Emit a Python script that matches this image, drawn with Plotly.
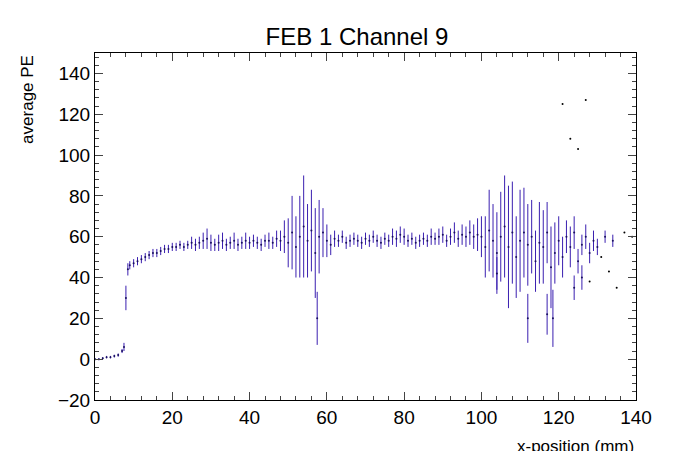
import plotly.graph_objects as go

# average PE per x bin
x_mm = [0, 1, 2, 3, 4, 5, 6, 7, 7.5, 8, 8.5,
        9, 10, 11, 12, 13, 14, 15, 16, 17, 18, 19, 20, 21, 22, 23, 24, 25, 26, 27, 28, 29,
        30, 31, 32, 33, 34, 35, 36, 37, 38, 39, 40, 41, 42, 43, 44, 45, 46, 47, 48, 49,
        50, 51, 52, 53, 54, 55, 56, 57, 58, 59, 60, 61, 62, 63, 64, 65, 66, 67, 68, 69,
        70, 71, 72, 73, 74, 75, 76, 77, 78, 79, 80, 81, 82, 83, 84, 85, 86, 87, 88, 89,
        90, 91, 92, 93, 94, 95, 96, 97, 98, 99, 100, 101, 102, 103, 104, 105, 106, 107, 108, 109,
        110, 111, 112, 113, 114, 115, 116, 117, 118, 119, 120, 121, 122, 123, 124, 125, 126, 127, 128, 129,
        130, 132, 134]
avg_pe = [0, 0, 0.5, 1, 1, 1.5, 2, 4, 6, 30, 44,
          46, 47, 48, 49, 50, 51, 52, 52, 53, 54, 54, 55, 55, 56, 55, 56, 57, 56, 57, 58, 59,
          57, 56, 57, 58, 56, 57, 58, 56, 57, 58, 57, 58, 57, 56, 58, 58, 57, 59, 58, 60,
          57, 62, 55, 60, 65, 58, 63, 52, 60, 62, 58, 56, 59, 58, 60, 57, 58, 59, 58, 57,
          59, 58, 60, 58, 57, 59, 58, 60, 59, 61, 60, 58, 59, 57, 58, 59, 58, 60, 59, 60,
          61, 58, 60, 62, 59, 61, 60, 62, 60, 61, 60, 55, 63, 58, 52, 60, 65, 55, 62, 50,
          58, 62, 56, 60, 48, 57, 55, 62, 45, 52, 58, 50, 60, 55, 62, 48, 56, 60, 52, 58,
          55, 60, 58]
pe_err = [0.5, 0.5, 0.5, 0.6, 0.6, 0.7, 0.8, 1, 2, 6, 3,
          2, 2, 2, 2, 2, 2, 2, 2, 2, 2, 2, 2, 2, 2, 2, 2, 3, 3, 3, 4, 5,
          4, 3, 4, 4, 3, 3, 4, 3, 3, 4, 3, 3, 3, 3, 3, 4, 3, 4, 5, 8,
          12, 18, 15, 20, 25, 18, 20, 22, 18, 12, 8, 5, 4, 3, 3, 3, 3, 3, 3, 3,
          3, 3, 3, 3, 3, 3, 3, 4, 4, 4, 4, 3, 3, 3, 3, 3, 3, 4, 3, 4,
          4, 3, 4, 5, 4, 5, 5, 6, 6, 8, 10, 15, 20, 18, 20, 22, 25, 30, 25, 20,
          25, 22, 20, 18, 15, 20, 18, 15, 20, 15, 12, 10, 8, 10, 8, 6, 5, 6, 5, 5,
          4, 3, 3]

# low outliers with long error bars
out_x = [57.5, 104, 112, 117, 118.5, 124, 126]
out_pe = [20, 42, 20, 22, 20, 35, 40]
out_err = [13, 8, 12, 10, 14, 6, 6]

# sparse single points at large x
sparse_x = [121, 123, 125, 127, 128, 131, 133, 135, 137, 139]
sparse_pe = [125, 108, 103, 127, 38, 50, 43, 35, 62, 60]

col = "#3a1fb0"
fig = go.Figure()
for xs, ys, es in [(x_mm, avg_pe, pe_err), (out_x, out_pe, out_err)]:
    fig.add_trace(go.Scatter(x=xs, y=ys, mode="markers",
                             marker=dict(color="#1a1060", size=2),
                             error_y=dict(type="data", array=es, color=col, thickness=1, width=0),
                             showlegend=False))
fig.add_trace(go.Scatter(x=sparse_x, y=sparse_pe, mode="markers",
                         marker=dict(color="black", size=2), showlegend=False))

axis = dict(showline=True, linecolor="black", linewidth=1, mirror="ticks", ticks="inside",
            tickfont=dict(family="Liberation Sans, Arial", size=19, color="black"),
            showgrid=False, zeroline=False, ticklen=8, automargin=False)
fig.update_xaxes(range=[0, 140], dtick=20, minor=dict(ticks="inside", dtick=4, ticklen=4), **axis)
fig.update_yaxes(range=[-20, 150], dtick=20, minor=dict(ticks="inside", dtick=4, ticklen=4), **axis)

fig.update_layout(
    width=698, height=451, margin=dict(l=87, r=70, t=45, b=59),
    plot_bgcolor="white", paper_bgcolor="white",
    font=dict(family="Liberation Sans, Arial", color="black"),
    title=dict(text="FEB 1 Channel 9", x=0.5, xanchor="center", y=0.955, font=dict(size=24)),
    annotations=[
        dict(text="x-position (mm)", xref="paper", yref="paper", x=1, y=-0.133,
             xanchor="right", yanchor="middle", showarrow=False, font=dict(size=17)),
        dict(text="average PE", xref="paper", yref="paper", x=-0.125, y=1,
             xanchor="center", yanchor="top", textangle=-90, showarrow=False, font=dict(size=17)),
    ],
)
fig.write_html("out.html")
